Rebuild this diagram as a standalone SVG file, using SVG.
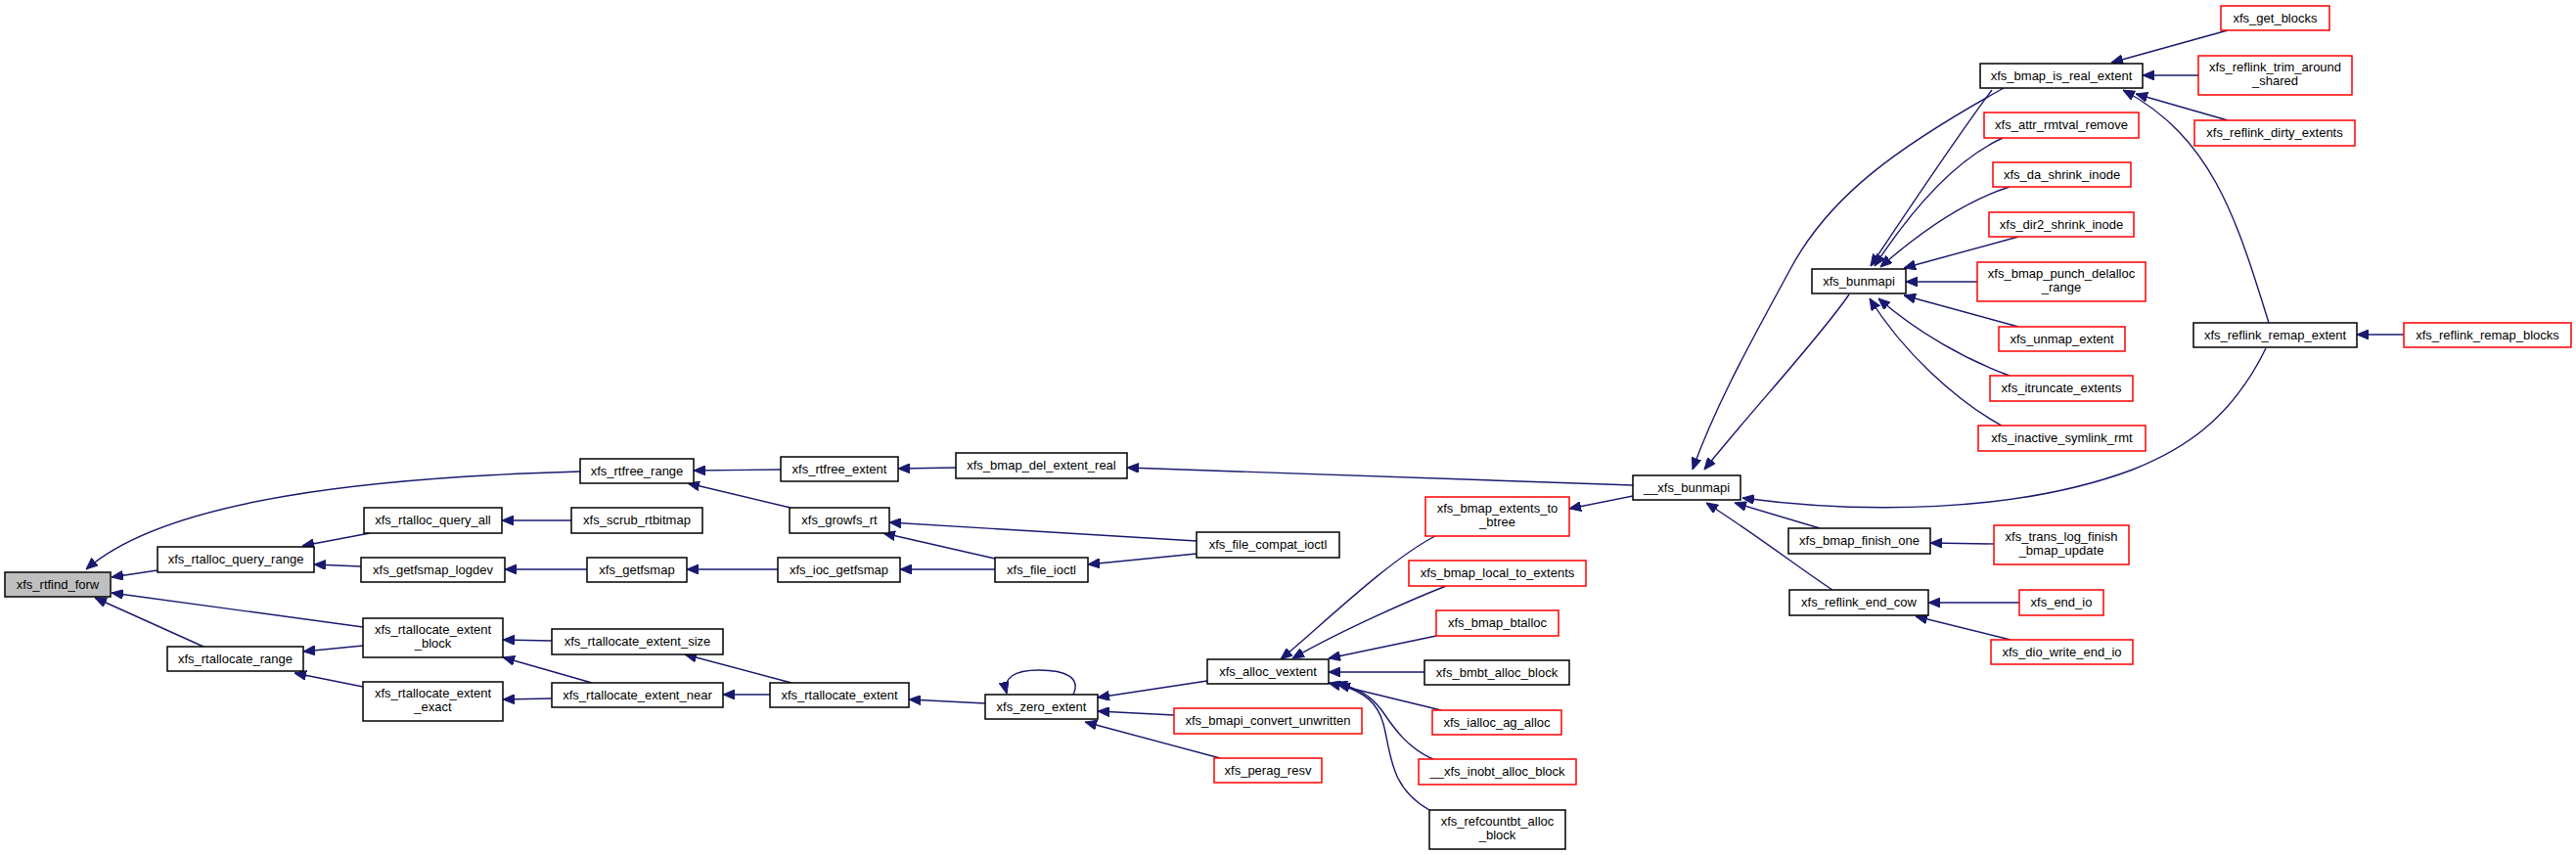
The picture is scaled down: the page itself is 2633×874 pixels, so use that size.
<svg xmlns="http://www.w3.org/2000/svg" width="2633" height="874" viewBox="0 0 2633 874">
<defs>
<style>
.n rect{fill:#fff;stroke:#000;stroke-width:1.5}
.r rect{fill:#fff;stroke:#f00;stroke-width:1.5}
.g rect{fill:#bfbfbf;stroke:#000;stroke-width:1.5}
text{font-family:"Liberation Sans",Arial,sans-serif;font-size:13px;text-anchor:middle;fill:#000}
#edges path{fill:none;stroke:#191970;stroke-width:1.4;marker-end:url(#ah)}
</style>
<marker id="ah" viewBox="0 0 12 10" refX="12" refY="5" markerWidth="12" markerHeight="10" markerUnits="userSpaceOnUse" orient="auto">
<path d="M0,0 L12,5 L0,10 z" fill="#191970" stroke="#191970" stroke-width="1"/>
</marker>
</defs>
<rect width="2633" height="874" fill="#fff"/>
<g id="edges">
<path d="M161,583 L114,590"/>
<path d="M593,482 C380,488 170,510 88,582"/>
<path d="M371,641 L114,606"/>
<path d="M208,661 L97,611"/>
<path d="M378,545 L309,558"/>
<path d="M369,579 L321,577"/>
<path d="M371,660 L310,666"/>
<path d="M371,702 L301,688"/>
<path d="M798,480 L709,481"/>
<path d="M808,519 L703,494"/>
<path d="M584,532 L513,532"/>
<path d="M600,582 L516,582"/>
<path d="M564,655 L514,654"/>
<path d="M605,698 L514,672"/>
<path d="M564,714 L514,715"/>
<path d="M977,478 L918,479"/>
<path d="M1223,553 L909,534"/>
<path d="M1017,571 L903,545"/>
<path d="M795,582 L702,582"/>
<path d="M1017,582 L920,582"/>
<path d="M1223,566 L1112,577"/>
<path d="M809,698 L700,669"/>
<path d="M787,710 L739,710"/>
<path d="M1007,719 L929,715"/>
<path d="M1234,696 L1122,713"/>
<path d="M1200,731 L1122,727"/>
<path d="M1247,775 L1109,738"/>
<path d="M1097,710 C1105,693 1090,685 1062,685 C1036,685 1025,693 1029,709"/>
<path d="M1467,548 C1420,572 1350,640 1309,674"/>
<path d="M1478,599 C1440,614 1370,645 1321,673"/>
<path d="M1468,650 L1358,673"/>
<path d="M1456,687 L1358,687"/>
<path d="M1473,726 L1358,698"/>
<path d="M1467,777 C1440,766 1425,745 1413,727 C1402,712 1390,704 1365,698"/>
<path d="M1461,828 C1420,805 1422,770 1414,740 C1408,718 1395,708 1368,699"/>
<path d="M1669,496 L1152,478"/>
<path d="M1669,507 L1604,520"/>
<path d="M1890,301 C1860,345 1790,420 1742,480"/>
<path d="M2048,90 C1940,150 1870,200 1830,275 C1795,340 1755,410 1730,480"/>
<path d="M2036,92 C2000,140 1950,215 1912,272"/>
<path d="M2047,141 C1995,165 1950,220 1916,272"/>
<path d="M2054,191 C2010,205 1965,235 1922,273"/>
<path d="M2063,242 L1946,274"/>
<path d="M2021,288 L1948,288"/>
<path d="M2063,334 L1946,302"/>
<path d="M2054,384 C2010,368 1960,340 1920,305"/>
<path d="M2046,435 C2000,410 1945,360 1911,305"/>
<path d="M2277,31 L2158,64"/>
<path d="M2247,77 L2190,77"/>
<path d="M2277,123 L2183,96"/>
<path d="M2319,330 C2285,220 2260,140 2170,92"/>
<path d="M2457,342 L2409,342"/>
<path d="M2316,356 C2280,430 2230,460 2180,480 C2060,525 1900,525 1781,509"/>
<path d="M1860,540 L1773,514"/>
<path d="M1873,603 C1845,585 1800,550 1744,514"/>
<path d="M2038,556 L1973,555"/>
<path d="M2064,616 L1971,616"/>
<path d="M2055,654 L1958,630"/>
</g>
<g id="xfs_rtfind_forw" class="g"><rect x="5" y="585" width="108" height="25"/><text x="59" y="602">xfs_rtfind_forw</text></g>
<g id="xfs_rtalloc_query_range" class="n"><rect x="161" y="559" width="160" height="26"/><text x="241" y="576">xfs_rtalloc_query_range</text></g>
<g id="xfs_rtallocate_range" class="n"><rect x="171" y="661" width="139" height="25"/><text x="240.5" y="678">xfs_rtallocate_range</text></g>
<g id="xfs_rtfree_range" class="n"><rect x="593" y="469" width="116" height="25"/><text x="651" y="486">xfs_rtfree_range</text></g>
<g id="xfs_rtalloc_query_all" class="n"><rect x="372" y="519" width="141" height="26"/><text x="442.5" y="536">xfs_rtalloc_query_all</text></g>
<g id="xfs_getfsmap_logdev" class="n"><rect x="369" y="570" width="147" height="25"/><text x="442.5" y="587">xfs_getfsmap_logdev</text></g>
<g id="xfs_rtallocate_extent_block" class="n"><rect x="371" y="632" width="143" height="40"/><text x="442.5" y="647.5">xfs_rtallocate_extent</text><text x="442.5" y="662">_block</text></g>
<g id="xfs_rtallocate_extent_exact" class="n"><rect x="371" y="697" width="143" height="40"/><text x="442.5" y="712.5">xfs_rtallocate_extent</text><text x="442.5" y="727">_exact</text></g>
<g id="xfs_rtfree_extent" class="n"><rect x="798" y="467" width="120" height="25"/><text x="858" y="484">xfs_rtfree_extent</text></g>
<g id="xfs_growfs_rt" class="n"><rect x="807" y="519" width="102" height="26"/><text x="858" y="536">xfs_growfs_rt</text></g>
<g id="xfs_scrub_rtbitmap" class="n"><rect x="584" y="519" width="134" height="26"/><text x="651" y="536">xfs_scrub_rtbitmap</text></g>
<g id="xfs_getfsmap" class="n"><rect x="600" y="570" width="102" height="25"/><text x="651" y="587">xfs_getfsmap</text></g>
<g id="xfs_rtallocate_extent_size" class="n"><rect x="564" y="643" width="175" height="26"/><text x="651.5" y="660">xfs_rtallocate_extent_size</text></g>
<g id="xfs_rtallocate_extent_near" class="n"><rect x="564" y="698" width="175" height="25"/><text x="651.5" y="715">xfs_rtallocate_extent_near</text></g>
<g id="xfs_bmap_del_extent_real" class="n"><rect x="977" y="463" width="175" height="26"/><text x="1064.5" y="480">xfs_bmap_del_extent_real</text></g>
<g id="xfs_ioc_getfsmap" class="n"><rect x="795" y="570" width="125" height="25"/><text x="857.5" y="587">xfs_ioc_getfsmap</text></g>
<g id="xfs_file_ioctl" class="n"><rect x="1017" y="570" width="95" height="25"/><text x="1064.5" y="587">xfs_file_ioctl</text></g>
<g id="xfs_file_compat_ioctl" class="n"><rect x="1223" y="544" width="146" height="26"/><text x="1296" y="561">xfs_file_compat_ioctl</text></g>
<g id="xfs_rtallocate_extent" class="n"><rect x="787" y="698" width="142" height="25"/><text x="858" y="715">xfs_rtallocate_extent</text></g>
<g id="xfs_zero_extent" class="n"><rect x="1007" y="710" width="115" height="25"/><text x="1064.5" y="727">xfs_zero_extent</text></g>
<g id="xfs_alloc_vextent" class="n"><rect x="1234" y="674" width="124" height="25"/><text x="1296" y="691">xfs_alloc_vextent</text></g>
<g id="xfs_bmapi_convert_unwritten" class="r"><rect x="1200" y="724" width="192" height="26"/><text x="1296" y="741">xfs_bmapi_convert_unwritten</text></g>
<g id="xfs_perag_resv" class="r"><rect x="1241" y="775" width="110" height="25"/><text x="1296" y="792">xfs_perag_resv</text></g>
<g id="xfs_bmap_extents_to_btree" class="r"><rect x="1457" y="508" width="147" height="40"/><text x="1530.5" y="523.5">xfs_bmap_extents_to</text><text x="1530.5" y="538">_btree</text></g>
<g id="xfs_bmap_local_to_extents" class="r"><rect x="1440" y="573" width="181" height="26"/><text x="1530.5" y="590">xfs_bmap_local_to_extents</text></g>
<g id="xfs_bmap_btalloc" class="r"><rect x="1468" y="624" width="125" height="26"/><text x="1530.5" y="641">xfs_bmap_btalloc</text></g>
<g id="xfs_bmbt_alloc_block" class="n"><rect x="1456" y="675" width="148" height="25"/><text x="1530" y="692">xfs_bmbt_alloc_block</text></g>
<g id="xfs_ialloc_ag_alloc" class="r"><rect x="1464" y="726" width="132" height="25"/><text x="1530" y="743">xfs_ialloc_ag_alloc</text></g>
<g id="__xfs_inobt_alloc_block" class="r"><rect x="1450" y="776" width="161" height="26"/><text x="1530.5" y="793">__xfs_inobt_alloc_block</text></g>
<g id="xfs_refcountbt_alloc_block" class="n"><rect x="1461" y="828" width="139" height="40"/><text x="1530.5" y="843.5">xfs_refcountbt_alloc</text><text x="1530.5" y="858">_block</text></g>
<g id="__xfs_bunmapi" class="n"><rect x="1669" y="486" width="110" height="25"/><text x="1724" y="503">__xfs_bunmapi</text></g>
<g id="xfs_bunmapi" class="n"><rect x="1852" y="275" width="96" height="25"/><text x="1900" y="292">xfs_bunmapi</text></g>
<g id="xfs_bmap_is_real_extent" class="n"><rect x="2024" y="65" width="166" height="25"/><text x="2107" y="82">xfs_bmap_is_real_extent</text></g>
<g id="xfs_get_blocks" class="r"><rect x="2270" y="6" width="111" height="25"/><text x="2325.5" y="23">xfs_get_blocks</text></g>
<g id="xfs_reflink_trim_around_shared" class="r"><rect x="2247" y="57" width="157" height="40"/><text x="2325.5" y="72.5">xfs_reflink_trim_around</text><text x="2325.5" y="87">_shared</text></g>
<g id="xfs_reflink_dirty_extents" class="r"><rect x="2243" y="123" width="164" height="26"/><text x="2325" y="140">xfs_reflink_dirty_extents</text></g>
<g id="xfs_attr_rmtval_remove" class="r"><rect x="2028" y="115" width="158" height="26"/><text x="2107" y="132">xfs_attr_rmtval_remove</text></g>
<g id="xfs_da_shrink_inode" class="r"><rect x="2037" y="166" width="141" height="25"/><text x="2107.5" y="183">xfs_da_shrink_inode</text></g>
<g id="xfs_dir2_shrink_inode" class="r"><rect x="2033" y="217" width="148" height="25"/><text x="2107" y="234">xfs_dir2_shrink_inode</text></g>
<g id="xfs_bmap_punch_delalloc_range" class="r"><rect x="2021" y="268" width="172" height="40"/><text x="2107" y="283.5">xfs_bmap_punch_delalloc</text><text x="2107" y="298">_range</text></g>
<g id="xfs_unmap_extent" class="r"><rect x="2043" y="334" width="129" height="25"/><text x="2107.5" y="351">xfs_unmap_extent</text></g>
<g id="xfs_itruncate_extents" class="r"><rect x="2034" y="384" width="146" height="26"/><text x="2107" y="401">xfs_itruncate_extents</text></g>
<g id="xfs_inactive_symlink_rmt" class="r"><rect x="2022" y="435" width="171" height="26"/><text x="2107.5" y="452">xfs_inactive_symlink_rmt</text></g>
<g id="xfs_reflink_remap_extent" class="n"><rect x="2242" y="330" width="167" height="25"/><text x="2325.5" y="347">xfs_reflink_remap_extent</text></g>
<g id="xfs_reflink_remap_blocks" class="r"><rect x="2457" y="330" width="171" height="25"/><text x="2542.5" y="347">xfs_reflink_remap_blocks</text></g>
<g id="xfs_bmap_finish_one" class="n"><rect x="1828" y="540" width="145" height="26"/><text x="1900.5" y="557">xfs_bmap_finish_one</text></g>
<g id="xfs_trans_log_finish_bmap_update" class="r"><rect x="2038" y="537" width="138" height="40"/><text x="2107" y="552.5">xfs_trans_log_finish</text><text x="2107" y="567">_bmap_update</text></g>
<g id="xfs_reflink_end_cow" class="n"><rect x="1829" y="603" width="142" height="26"/><text x="1900" y="620">xfs_reflink_end_cow</text></g>
<g id="xfs_end_io" class="r"><rect x="2064" y="603" width="86" height="26"/><text x="2107" y="620">xfs_end_io</text></g>
<g id="xfs_dio_write_end_io" class="r"><rect x="2035" y="654" width="145" height="25"/><text x="2107.5" y="671">xfs_dio_write_end_io</text></g>
</svg>
